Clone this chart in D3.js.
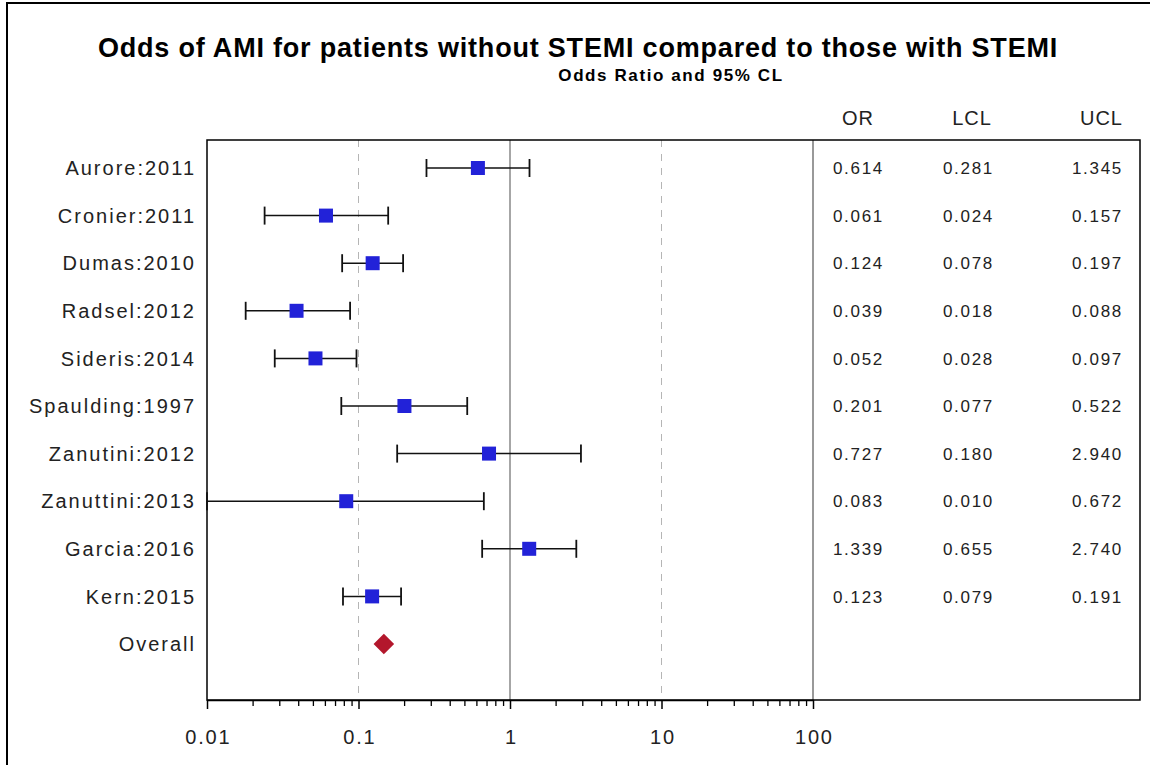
<!DOCTYPE html>
<html>
<head>
<meta charset="utf-8">
<script src="https://cdnjs.cloudflare.com/ajax/libs/d3/7.8.5/d3.min.js"></script>
<style>
  body { margin: 0; background: #fff; }
  text { font-family: "Liberation Sans", Arial, sans-serif; }
</style>
</head>
<body>
<div id="chart"></div>
<script>
// study data
var studies = ["Aurore:2011", "Cronier:2011", "Dumas:2010", "Radsel:2012", "Sideris:2014",
               "Spaulding:1997", "Zanutini:2012", "Zanuttini:2013", "Garcia:2016", "Kern:2015"];
var orValues  = [0.614, 0.061, 0.124, 0.039, 0.052, 0.201, 0.727, 0.083, 1.339, 0.123];
var lclValues = [0.281, 0.024, 0.078, 0.018, 0.028, 0.077, 0.180, 0.010, 0.655, 0.079];
var uclValues = [1.345, 0.157, 0.197, 0.088, 0.097, 0.522, 2.940, 0.672, 2.740, 0.191];
var overallLabel = "Overall";
var overallOR = 0.147;
var xTickValues = [0.01, 0.1, 1, 10, 100];
var refLines = [0.1, 1, 10];

var width = 1150, height = 765;
var plot = {left: 207, right: 1140, top: 140, bottom: 700};

var svg = d3.select("#chart")
  .append("svg")
    .attr("width", width)
    .attr("height", height);

// outer frame (left and top edges visible)
svg.append("rect")
  .attr("x", 7).attr("y", 3)
  .attr("width", 1200).attr("height", 900)
  .attr("fill", "none")
  .attr("stroke", "#000")
  .attr("stroke-width", 2);

// titles
svg.append("text")
  .attr("x", 578).attr("y", 57)
  .attr("text-anchor", "middle")
  .style("font-size", "27px").style("font-weight", "bold")
  .style("letter-spacing", "0.8px")
  .text("Odds of AMI for patients without STEMI compared to those with STEMI");
svg.append("text")
  .attr("x", 671).attr("y", 81)
  .attr("text-anchor", "middle")
  .style("font-size", "17px").style("font-weight", "bold")
  .style("letter-spacing", "1.6px")
  .text("Odds Ratio and 95% CL");

// scales
var x = d3.scaleLog()
  .domain([0.01, 100])
  .range([plot.left, 813]);

var rows = studies.concat([overallLabel]);
var y = d3.scalePoint()
  .domain(rows)
  .range([168, 644]);

// reference lines
svg.selectAll(".ref")
  .data(refLines)
  .enter().append("line")
    .attr("x1", function(d) { return x(d); })
    .attr("x2", function(d) { return x(d); })
    .attr("y1", plot.top).attr("y2", plot.bottom)
    .attr("stroke", function(d) { return d == 1 ? "#888" : "#b5b5b5"; })
    .attr("stroke-width", function(d) { return d == 1 ? 1.5 : 1; })
    .attr("stroke-dasharray", function(d) { return d == 1 ? null : "7,7"; });

// table separator at 100
svg.append("line")
  .attr("x1", x(100)).attr("x2", x(100))
  .attr("y1", plot.top).attr("y2", plot.bottom)
  .attr("stroke", "#555").attr("stroke-width", 1.2);

// plot frame
svg.append("rect")
  .attr("x", plot.left).attr("y", plot.top)
  .attr("width", plot.right - plot.left)
  .attr("height", plot.bottom - plot.top)
  .attr("fill", "none")
  .attr("stroke", "#000")
  .attr("stroke-width", 1.5);

// x axis with minor ticks
var minorTicks = [];
for (var e = -2; e < 2; e++) {
  for (var m = 2; m <= 9; m++) minorTicks.push(m * Math.pow(10, e));
}
svg.append("g")
  .attr("transform", "translate(0," + plot.bottom + ")")
  .call(d3.axisBottom(x).tickValues(minorTicks).tickSize(6).tickFormat(""))
  .call(function(g) { g.select(".domain").remove(); })
  .selectAll("line").attr("stroke-width", 1.3);

var xAxis = svg.append("g")
  .attr("transform", "translate(0," + plot.bottom + ")")
  .call(d3.axisBottom(x).tickValues(xTickValues).tickSize(9).tickSizeOuter(0)
    .tickFormat(function(d) { return String(d); }));
xAxis.select(".domain").attr("stroke-width", 1.5);
xAxis.selectAll("line").attr("stroke-width", 1.5);
xAxis.selectAll("text")
  .attr("y", 30)
  .attr("dy", "0.71em")
  .attr("dx", "0.9px")
  .style("font-size", "20px")
  .style("letter-spacing", "1.8px")
  .style("font-family", "'Liberation Sans', Arial, sans-serif")
  .attr("fill", "#222");

// row labels
svg.selectAll(".rowLabel")
  .data(rows)
  .enter().append("text")
    .attr("x", 196)
    .attr("y", function(d) { return y(d); })
    .attr("dy", "0.36em")
    .attr("text-anchor", "end")
    .style("font-size", "20px")
    .style("letter-spacing", "2px")
    .attr("fill", "#222")
    .text(function(d) { return d; });

// error bars
var bars = svg.append("g").selectAll("g")
  .data(studies)
  .enter().append("g");

bars.append("line")
  .attr("x1", function(d, i) { return x(lclValues[i]); })
  .attr("x2", function(d, i) { return x(uclValues[i]); })
  .attr("y1", function(d) { return y(d); })
  .attr("y2", function(d) { return y(d); })
  .attr("stroke", "#111").attr("stroke-width", 1.5);

[lclValues, uclValues].forEach(function(vals) {
  bars.append("line")
    .attr("x1", function(d, i) { return x(vals[i]); })
    .attr("x2", function(d, i) { return x(vals[i]); })
    .attr("y1", function(d) { return y(d) - 9; })
    .attr("y2", function(d) { return y(d) + 9; })
    .attr("stroke", "#111").attr("stroke-width", 1.8);
});

// OR markers
bars.append("rect")
  .attr("x", function(d, i) { return x(orValues[i]) - 7; })
  .attr("y", function(d) { return y(d) - 7; })
  .attr("width", 14).attr("height", 14)
  .attr("fill", "#2222d8");

// overall diamond
svg.append("path")
  .attr("d", d3.symbol().type(d3.symbolDiamond2).size(270))
  .attr("transform", "translate(" + x(overallOR) + "," + y(overallLabel) + ")")
  .attr("fill", "#b3172c");

// table
var cols = [
  {name: "OR",  vals: orValues,  x: 884, hx: 858, hanchor: "middle"},
  {name: "LCL", vals: lclValues, x: 994, hx: 972, hanchor: "middle"},
  {name: "UCL", vals: uclValues, x: 1123, hx: 1123, hanchor: "end"}
];
cols.forEach(function(c) {
  svg.append("text")
    .attr("x", c.hx).attr("y", 125)
    .attr("text-anchor", c.hanchor)
    .style("font-size", "20px")
    .style("letter-spacing", "1px")
    .attr("fill", "#222")
    .text(c.name);
  svg.selectAll(".v" + c.name)
    .data(studies)
    .enter().append("text")
      .attr("x", c.x)
      .attr("y", function(d) { return y(d); })
      .attr("dy", "0.36em")
      .attr("text-anchor", "end")
      .style("font-size", "17px")
      .style("letter-spacing", "1.7px")
      .attr("fill", "#222")
      .text(function(d, i) { return c.vals[i].toFixed(3); });
});
</script>
</body>
</html>
